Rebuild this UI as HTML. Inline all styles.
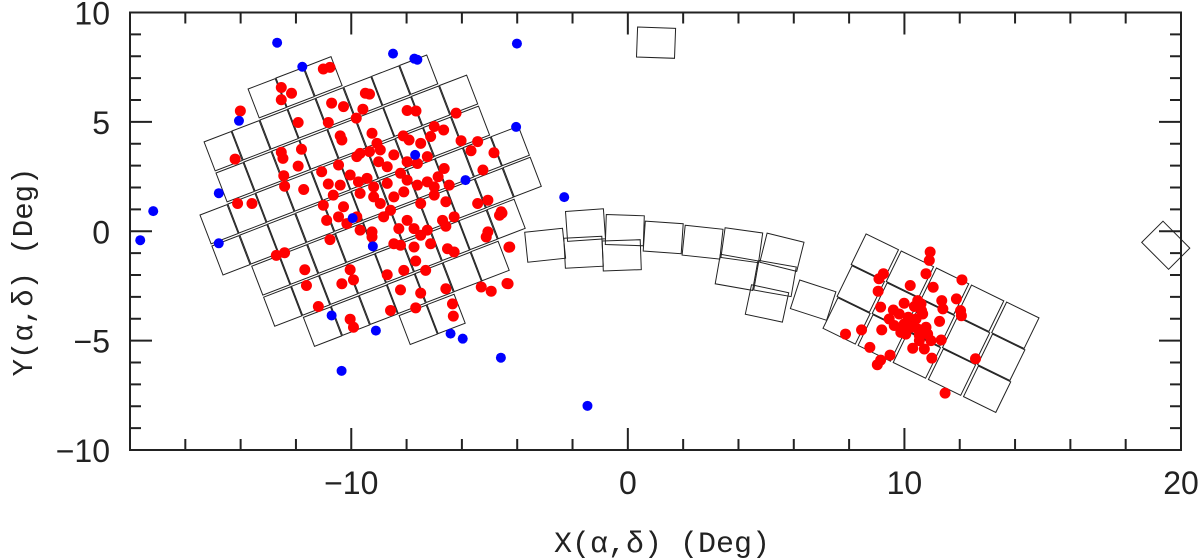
<!DOCTYPE html>
<html><head><meta charset="utf-8"><style>
html,body{margin:0;padding:0;background:#fff;}
svg{display:block;}
</style></head><body>
<svg id="chart" width="1200" height="559" viewBox="0 0 1200 559" xmlns="http://www.w3.org/2000/svg">
<g id="tiles"></g>
<g id="points"></g>
<g id="axes"></g>
<text x="662" y="552" text-anchor="middle" font-family="Liberation Mono, monospace" font-size="30" fill="#222">X(α,δ) (Deg)</text>
<text transform="translate(32,272) rotate(-90)" text-anchor="middle" font-family="Liberation Mono, monospace" font-size="29" fill="#222">Y(α,δ) (Deg)</text>
</svg>
<script>
const xTicks=[-10,0,10,20];
const yTicks=[-10,-5,0,5,10];
const redX=[-11.01,-10.77,-12.53,-12.53,-12.16,-14.01,-10.71,-10.28,-9.58,-9.49,-9.34,-7.98,-7.66,-6.21,-11.92,-10.83,-9.82,-10.40,-10.34,-9.25,-9.07,-8.12,-7.91,-7.00,-6.66,-7.13,-7.49,-6.03,-5.43,-5.67,-4.84,-14.20,-12.53,-12.47,-11.80,-11.92,-11.07,-10.46,-10.04,-9.68,-9.80,-9.34,-8.95,-8.46,-9.01,-8.70,-7.98,-7.61,-7.25,-6.64,-6.86,-5.24,-12.44,-12.41,-11.72,-10.83,-10.40,-9.74,-9.43,-9.19,-8.70,-8.22,-7.98,-7.61,-7.25,-7.00,-6.46,-14.11,-13.59,-11.01,-10.65,-10.28,-9.68,-9.19,-8.95,-8.46,-8.10,-7.49,-7.00,-6.58,-5.43,-5.06,-4.58,-4.64,-10.89,-10.46,-10.16,-9.80,-9.68,-9.25,-8.83,-8.58,-8.28,-7.98,-7.73,-7.25,-6.70,-6.58,-6.28,-10.77,-9.25,-8.46,-8.22,-7.73,-7.49,-7.13,-6.52,-6.28,-5.06,-5.12,-4.27,-12.71,-12.41,-11.68,-11.62,-11.19,-10.34,-10.04,-9.92,-8.70,-8.10,-7.67,-7.31,-8.22,-7.49,-6.58,-5.30,-4.94,-4.33,-8.58,-7.67,-6.34,-6.31,-10.04,-9.92,-4.55,-4.30,-4.37,
10.93,10.90,9.24,9.08,10.78,12.08,10.21,11.04,9.05,11.88,11.35,9.99,9.14,10.48,10.60,10.36,11.39,12.03,12.06,9.60,9.81,9.45,10.14,10.66,11.27,9.63,9.99,10.24,10.48,10.78,9.18,8.45,7.87,9.87,10.05,10.54,10.84,10.54,10.96,11.33,8.75,10.30,10.72,9.48,10.99,9.14,9.02,12.57,11.47,10.62,10.42];
const redY=[7.42,7.49,6.57,6.01,6.31,5.50,5.86,5.70,5.58,6.31,6.27,5.52,5.50,5.40,4.97,4.97,5.17,4.36,4.17,4.48,4.02,4.36,4.17,4.79,4.63,4.33,4.02,4.14,4.10,3.68,3.59,3.30,3.61,3.33,3.75,2.98,2.72,3.03,2.57,3.56,3.41,3.64,3.72,3.49,3.18,2.95,3.18,3.10,3.41,2.87,2.49,2.80,2.54,2.06,1.91,2.16,2.11,2.26,2.42,2.03,2.19,2.65,2.34,2.11,2.26,2.03,2.11,1.27,1.27,1.19,1.65,1.12,1.73,1.57,1.27,1.57,1.80,1.27,1.65,1.35,1.27,1.42,0.89,0.73,0.50,0.66,0.35,0.66,0.05,-0.03,0.66,0.96,0.12,0.50,0.12,0.05,0.50,0.23,0.66,-0.38,-0.26,-0.57,-0.64,-0.72,-0.18,-0.57,-0.80,-0.95,-0.03,-0.26,-0.72,-1.10,-0.98,-1.76,-2.48,-3.44,-2.40,-1.76,-2.22,-1.99,-1.79,-1.36,-1.79,-2.68,-2.83,-2.63,-2.55,-2.74,-2.40,-3.62,-3.50,-3.32,-3.88,-4.02,-4.39,0.83,-0.73,-2.39,
-0.95,-1.33,-1.94,-2.17,-1.94,-2.22,-2.48,-2.56,-2.74,-3.09,-3.17,-3.29,-3.47,-3.17,-3.32,-3.44,-3.55,-3.63,-3.86,-3.60,-3.78,-4.01,-3.93,-3.78,-4.12,-4.31,-4.24,-4.39,-4.47,-4.39,-4.51,-4.51,-4.70,-4.62,-4.70,-4.77,-4.70,-5.00,-5.00,-4.97,-5.31,-5.35,-5.38,-5.66,-5.80,-5.89,-6.10,-5.83,-7.40,-3.63,-4.01];
const blueX=[-17.63,-17.16,-14.79,-14.79,-14.06,-12.68,-11.77,-10.71,-10.35,-9.11,-8.49,-7.72,-7.61,-9.95,-9.22,-7.69,-5.87,-4.01,-4.04,-6.41,-5.97,-4.59,-2.30,-1.46];
const blueY=[-0.41,0.92,1.74,-0.55,5.05,8.62,7.52,-3.85,-6.38,-4.54,8.12,7.89,7.84,0.60,-0.69,3.49,2.34,8.58,4.77,-4.68,-4.91,-5.78,1.56,-7.98];
const bridgeX=[-2.99,-1.53,-1.60,-0.11,-0.22,1.28,2.70,4.12,3.93,5.57,5.32,5.03,6.70,1.02,19.45];
const bridgeY=[-0.64,0.28,-0.96,0.05,-1.10,-0.28,-0.50,-0.64,-1.88,-0.96,-2.16,-3.30,-3.15,8.62,-0.64];
const bridgeRot=[-6,-4,-3,2,-2,4,6,8,10,14,10,12,18,2,45];

const X0=-18,X1=20,Y0=-10,Y1=10,L=130,R=1181,T=12.5,B=450;
const sx=v=>L+(v-X0)/(X1-X0)*(R-L);
const sy=v=>B-(v-Y0)/(Y1-Y0)*(B-T);
const NS='http://www.w3.org/2000/svg';
function mk(tag,attrs,parent){const e=document.createElementNS(NS,tag);for(const k in attrs)e.setAttribute(k,attrs[k]);parent.appendChild(e);return e;}
const tilesG=document.getElementById('tiles'),ptsG=document.getElementById('points'),axG=document.getElementById('axes');

function tile(dx,dy,w,h,rot,name){
  const cx=sx(dx),cy=sy(dy),r=rot*Math.PI/180,c=Math.cos(r),s=Math.sin(r);
  const pts=[[-w/2,-h/2],[w/2,-h/2],[w/2,h/2],[-w/2,h/2]].map(p=>(cx+p[0]*c-p[1]*s).toFixed(1)+','+(cy+p[0]*s+p[1]*c).toFixed(1)).join(' ');
  const p=mk('polygon',{points:pts,fill:'none',stroke:'#222','stroke-width':'1'},tilesG);
  
  
}
for(let i=-7;i<=7;i++)for(let j=-6;j<=6;j++){
  const dx=-9.3+i*1.01+j*0.43, dy=1.4+i*0.50-j*1.42;
  const ex=(dx+9.4)/5.7, ey=(dy-1.4)/6.2;
  if(ex*ex+ey*ey<=1) tile(dx,dy,29,31,-21,'lmc-tile');
}
for(let i=-2;i<=2;i++)for(let j=-1;j<=1;j++){
  const dx=10.96+i*1.27-j*0.51, dy=-4.20-i*0.78-j*1.46;
  tile(dx,dy,36,34,26,'smc-tile');
}
for(let k=0;k<bridgeX.length;k++) tile(bridgeX[k],bridgeY[k],38,30,bridgeRot[k],'bridge-tile');

for(let k=0;k<redX.length;k++){
  const c=mk('circle',{cx:sx(redX[k]),cy:sy(redY[k]),r:5.5,fill:'#ff0000'},ptsG);
  
  
}
for(let k=0;k<blueX.length;k++){
  const c=mk('circle',{cx:sx(blueX[k]),cy:sy(blueY[k]),r:5,fill:'#0000ff'},ptsG);
  
  
}
const fr=mk('rect',{x:L,y:T,width:R-L,height:B-T,fill:'none',stroke:'#222','stroke-width':'2'},axG);


const st={stroke:'#222','stroke-width':'2'};
for(let v=-18;v<=20;v+=2){
  const major=(v%10===0),len=major?22:11,x=sx(v);
  mk('line',Object.assign({x1:x,x2:x,y1:B,y2:B-len},st),axG);
  mk('line',Object.assign({x1:x,x2:x,y1:T,y2:T+len},st),axG);
}
for(let v=-10;v<=10;v+=1){
  const major=(v%5===0),len=major?22:11,y=sy(v);
  mk('line',Object.assign({x1:L,x2:L+len,y1:y,y2:y},st),axG);
  mk('line',Object.assign({x1:R,x2:R-len,y1:y,y2:y},st),axG);
}
for(const v of xTicks){
  const t=mk('text',{x:sx(v),y:B+44,'text-anchor':'middle','font-family':'Liberation Sans, sans-serif','font-size':'32',fill:'#222'},axG);
  t.textContent=(v<0?'\u2212':'')+Math.abs(v);
  
  
}
for(const v of yTicks){
  const t=mk('text',{x:110,y:sy(v)+12,'text-anchor':'end','font-family':'Liberation Sans, sans-serif','font-size':'32',fill:'#222'},axG);
  t.textContent=(v<0?'\u2212':'')+Math.abs(v);
  
  
}
</script>
</body></html>
